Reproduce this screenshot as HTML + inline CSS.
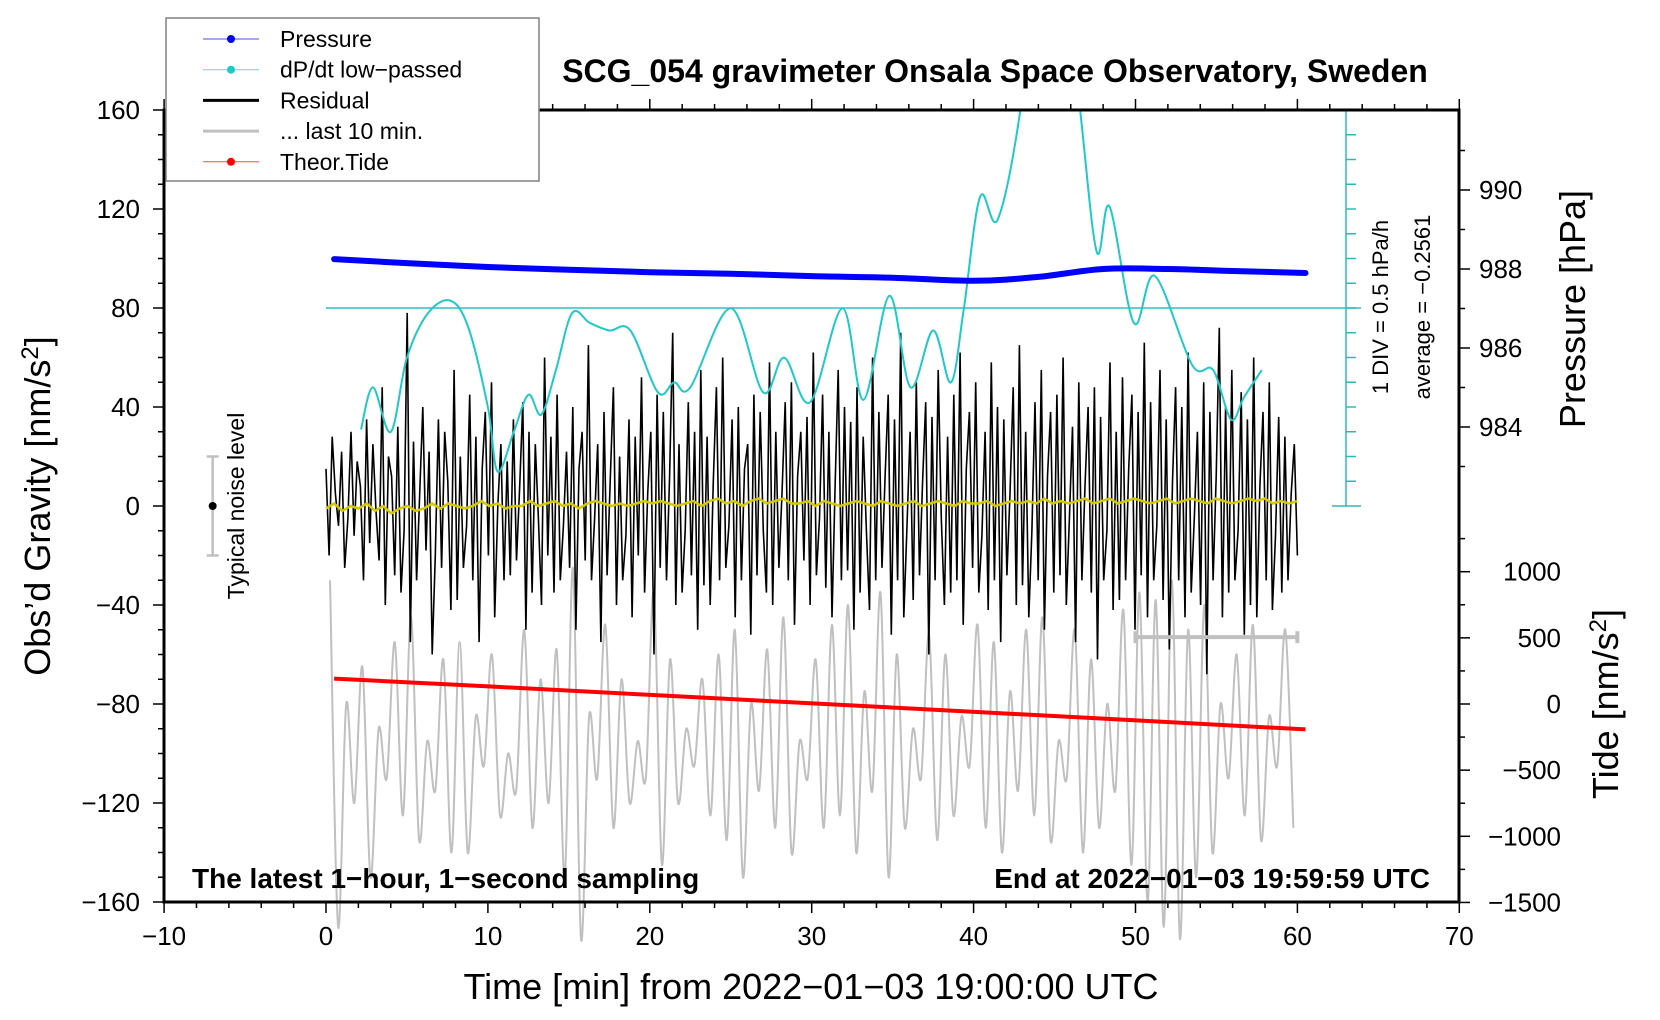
<!DOCTYPE html>
<html><head><meta charset="utf-8"><style>
html,body{margin:0;padding:0;background:#fff}
svg{display:block}
text{font-family:"Liberation Sans",Arial,sans-serif;fill:#000}
</style></head><body>
<svg id="chart" width="1660" height="1020" viewBox="0 0 1660 1020" xmlns="http://www.w3.org/2000/svg">
<defs><clipPath id="plotclip"><rect x="164" y="110" width="1295" height="792"/></clipPath></defs>
<g id="layer"></g>
</svg>
<script>
// ---------- data ----------
const xTicks = [-10,0,10,20,30,40,50,60,70];
const gTicks = [-160,-120,-80,-40,0,40,80,120,160];
const pTicks = [984,986,988,990];
const tTicks = [-1500,-1000,-500,0,500,1000];
const residual = [15,-20,28,5,-8,22,-25,-5,30,-12,18,8,-30,35,-15,25,-2,-22,48,-40,20,12,-28,32,-35,-10,78,-55,26,-30,5,40,-18,22,-60,-20,35,-25,30,10,-42,55,-38,20,-25,-8,45,-30,28,-55,15,38,-20,50,-45,0,25,-30,18,-28,35,-22,8,42,-50,30,-35,25,-5,-40,60,-20,28,-35,
45,-30,-8,22,-25,40,-50,15,30,-22,65,-30,-5,25,-55,38,-28,10,48,-40,20,-30,-12,35,-45,28,-20,52,-35,5,30,-60,45,-25,38,-30,12,70,-40,25,-35,-10,42,-28,30,-50,55,-32,
28,-40,10,48,-30,60,-25,-8,35,-45,40,-30,15,25,-52,45,-28,38,-10,-35,58,-40,30,-25,5,42,-30,50,-48,12,30,-22,36,-40,62,-28,-5,45,-33,30,-45,8,55,-30,40,-26,34,-50,
48,-35,28,-10,-42,60,-30,38,-25,12,45,-52,35,-30,70,-45,-8,30,-38,50,-28,10,42,-60,36,-30,55,-5,-40,28,-35,45,-30,62,-48,15,38,-25,50,-35,-12,30,-42,58,-30,40,-55,
35,-28,5,48,-40,65,-32,30,-45,-10,42,-30,55,-50,12,38,-35,45,-28,60,-40,-5,32,-55,50,-30,8,40,-35,48,-62,36,-30,-10,58,-42,30,-38,52,-30,15,45,-50,38,-28,66,-45,
42,-30,-8,55,-38,35,-58,10,48,-30,40,-45,62,-35,-5,30,-40,50,-68,38,-30,12,72,-45,40,-35,55,-30,-10,46,-52,35,-40,60,-45,8,38,-30,50,-42,-12,36,-35,28,-30,5,25,-20];
const smoothRes = [-1,1,-2,0,-1,1,-2,0,-3,-1,0,-2,-1,1,-1,1,0,-1,0,2,0,1,-1,0,0,2,0,1,2,0,1,-1,1,2,1,0,1,0,1,2,1,2,1,0,1,2,0,2,3,1,2,0,2,3,1,2,3,1,1,2,
0,2,1,0,1,2,1,0,2,1,0,1,2,0,1,2,1,0,2,1,1,2,0,1,2,1,2,1,3,1,2,1,2,3,1,2,3,1,2,3,2,1,2,3,1,2,3,2,1,3,2,1,2,3,2,3,1,2,1,2];
const lastPeaks = [-30,-80,-65,-90,-55,-45,-95,-62,-55,-85,-60,-100,-50,-70,-58,-25,-85,-48,-70,-95,-35,-62,-90,-70,-60,-50,-80,-58,-45,-95,-62,-48,-40,-75,-35,-60,-90,-52,-60,-85,-48,-55,-75,-50,-45,-95,-50,-62,-80,-42,-35,-38,-30,-50,-40,-80,-60,-48,-85,-50];
const lastTroughs = [-170,-120,-150,-110,-125,-135,-115,-140,-140,-105,-125,-115,-130,-120,-150,-175,-110,-130,-120,-110,-145,-120,-105,-125,-135,-150,-115,-130,-140,-110,-130,-125,-140,-115,-150,-130,-110,-135,-125,-105,-130,-140,-115,-125,-135,-110,-140,-130,-115,-145,-160,-170,-175,-150,-140,-110,-125,-135,-105,-130];
const pressTimes = [0.5,5,10,15,20,25,30,35,40,44,48,52,56,60.5];
const pressVals  = [988.25,988.15,988.05,987.98,987.92,987.88,987.82,987.78,987.7,987.8,988.0,988.0,987.95,987.9];
const tideTimes = [0.5,10.5,20.5,30.5,40.5,50.5,60.5];
const tideVals  = [192,130,66,2,-62,-127,-192];
const dpTimes = [2.16,2.9,4.0,5.0,6.3,7.7,8.8,10.0,10.6,11.6,12.5,13.3,14.2,15.2,16.3,17.5,18.8,20.5,21.5,22.5,25.0,27.0,28.3,29.9,31.9,33.2,34.8,36.1,37.5,38.6,39.4,40.4,41.5,43.0,44.8,46.5,47.6,48.4,49.9,51.2,53.5,54.8,55.9,56.7,57.8];
const dpVals  = [-2.71,-1.86,-2.76,-1.26,-0.36,-0.11,-0.66,-2.26,-3.56,-2.76,-2.01,-2.41,-1.51,-0.36,-0.56,-0.71,-0.71,-1.96,-1.76,-1.86,-0.26,-1.96,-1.26,-2.16,-0.26,-2.11,-0.01,-1.86,-0.71,-1.76,-0.26,1.99,1.54,3.99,8.99,3.99,0.89,1.79,-0.56,0.39,-1.41,-1.51,-2.51,-2.06,-1.51];
const dpAvg = -0.2561;

// ---------- scales ----------
const X = m => 326 + m*16.19;
const Y = g => 506 - g*2.475;
const P = h => 269 - (h-988)*39.5;
const T = t => 704 - t*0.1323;
const D = v => Y(80) - (v-dpAvg)/0.5*24.75;

const NS='http://www.w3.org/2000/svg';
const layer=document.getElementById('layer');
function mk(tag,attrs,parent){const e=document.createElementNS(NS,tag);for(const k in attrs)e.setAttribute(k,attrs[k]);(parent||layer).appendChild(e);return e;}
function txt(s,attrs,parent){const e=mk('text',attrs,parent);e.textContent=s;return e;}
function smooth(pts){let d='M'+pts[0][0].toFixed(1)+','+pts[0][1].toFixed(1);
 for(let i=0;i<pts.length-1;i++){const p0=pts[i-1]||pts[i],p1=pts[i],p2=pts[i+1],p3=pts[i+2]||p2;
  d+=' C'+(p1[0]+(p2[0]-p0[0])/6).toFixed(1)+','+(p1[1]+(p2[1]-p0[1])/6).toFixed(1)+' '+(p2[0]-(p3[0]-p1[0])/6).toFixed(1)+','+(p2[1]-(p3[1]-p1[1])/6).toFixed(1)+' '+p2[0].toFixed(1)+','+p2[1].toFixed(1);}
 return d;}

// gray last-10-min
const gpts=[];
lastPeaks.forEach((v,i)=>{gpts.push([X(i+0.25),Y(v)]);gpts.push([X(i+0.75),Y(lastTroughs[i])]);});
let e=mk('path',{d:smooth(gpts),fill:'none',stroke:'#c0c0c0','stroke-width':2});



const clipG=mk('g',{'clip-path':'url(#plotclip)'});



// residual
const rp=residual.map((v,i)=>X(i*60/(residual.length-1)).toFixed(1)+','+Y(v).toFixed(1)).join(' ');
e=mk('polyline',{points:rp,fill:'none',stroke:'#000','stroke-width':1.6},clipG);


// smoothed residual (yellow)
const sp=smoothRes.map((v,i)=>X(i*60/(smoothRes.length-1)).toFixed(1)+','+Y(v).toFixed(1)).join(' ');
e=mk('polyline',{points:sp,fill:'none',stroke:'#d4c800','stroke-width':2.5},clipG);


// cyan center line
e=mk('line',{x1:X(0),x2:1361,y1:D(dpAvg),y2:D(dpAvg),stroke:'#30c0c0','stroke-width':1.5});


// dP/dt
e=mk('path',{d:smooth(dpTimes.map((t,i)=>[X(t),D(dpVals[i])])),fill:'none',stroke:'#20c8c8','stroke-width':2},clipG);


// pressure
e=mk('path',{d:smooth(pressTimes.map((t,i)=>[X(t),P(pressVals[i])])),fill:'none',stroke:'#0000ff','stroke-width':6,'stroke-linecap':'round'},clipG);


// tide
e=mk('polyline',{points:tideTimes.map((t,i)=>X(t)+','+T(tideVals[i])).join(' '),fill:'none',stroke:'#ff0000','stroke-width':4},clipG);



// last-10-min marker
const mg=mk('g',{stroke:'#c0c0c0','stroke-width':4});


mk('line',{x1:X(50),x2:X(60),y1:Y(-53),y2:Y(-53)},mg);
mk('line',{x1:X(50),x2:X(50),y1:Y(-53)-6,y2:Y(-53)+6},mg);
mk('line',{x1:X(60),x2:X(60),y1:Y(-53)-6,y2:Y(-53)+6},mg);

// noise bar
const nb=mk('g',{});


mk('line',{x1:X(-7),x2:X(-7),y1:Y(20),y2:Y(-20),stroke:'#c0c0c0','stroke-width':2.5},nb);
mk('line',{x1:X(-7)-6,x2:X(-7)+6,y1:Y(20),y2:Y(20),stroke:'#c0c0c0','stroke-width':2.5},nb);
mk('line',{x1:X(-7)-6,x2:X(-7)+6,y1:Y(-20),y2:Y(-20),stroke:'#c0c0c0','stroke-width':2.5},nb);
mk('circle',{cx:X(-7),cy:Y(0),r:4,fill:'#000'},nb);
e=txt('Typical noise level',{x:0,y:0,'font-size':23,'text-anchor':'middle',transform:'translate(244,506) rotate(-90)'});



// cyan dP/dt scale axis
const ca=mk('g',{stroke:'#30b8b8','stroke-width':1.5});


mk('line',{x1:1346,x2:1346,y1:110,y2:506},ca);
for(let k=0;k<=16;k++){const y=Y(k*10);const big=(k===0||k===16);mk('line',{x1:big?1332:1346,x2:big?1361:1356,y1:y,y2:y},ca);}

// frame
e=mk('rect',{x:164,y:110,width:1295,height:792,fill:'none',stroke:'#000','stroke-width':3});


// ticks
const tg=mk('g',{stroke:'#000','stroke-width':1.5});
for(let m=-10;m<=70;m+=2){const big=m%10===0;mk('line',{x1:X(m),x2:X(m),y1:902,y2:902+(big?11:6)},tg);mk('line',{x1:X(m),x2:X(m),y1:110,y2:110-(big?11:6)},tg);}
for(let g=-160;g<=160;g+=10){const big=g%40===0;mk('line',{x1:164,x2:164-(big?11:6),y1:Y(g),y2:Y(g)},tg);}
for(let h=983;h<=991;h++){const big=h%2===0;mk('line',{x1:1459,x2:1459+(big?11:6),y1:P(h),y2:P(h)},tg);}
for(let t=-1500;t<=1250;t+=250){const big=t%500===0;mk('line',{x1:1459,x2:1459+(big?11:6),y1:T(t),y2:T(t)},tg);}
xTicks.forEach(v=>{const t=txt(String(v).replace('-','\u2212'),{x:X(v),y:945,'font-size':26,'text-anchor':'middle'});

});
gTicks.forEach(v=>{const t=txt(String(v).replace('-','\u2212'),{x:140,y:Y(v)+9,'font-size':26,'text-anchor':'end'});

});
pTicks.forEach(v=>{const t=txt(String(v),{x:1479,y:P(v)+9,'font-size':26});

});
tTicks.forEach(v=>{const t=txt(String(v).replace('-','\u2212'),{x:1561,y:T(v)+9,'font-size':26,'text-anchor':'end'});

});

// titles
e=txt('SCG_054 gravimeter Onsala Space Observatory, Sweden',{x:995,y:82,'font-size':32,'font-weight':'bold','text-anchor':'middle'});


e=txt('Time [min] from 2022\u221201\u221203 19:00:00 UTC',{x:811,y:999,'font-size':36,'text-anchor':'middle'});


e=mk('text',{x:0,y:0,'font-size':36,'text-anchor':'middle',transform:'translate(50,506) rotate(-90)'});
e.innerHTML='Obs\u2019d Gravity [nm/s<tspan dy="-12" font-size="24">2</tspan><tspan dy="12">]</tspan>';


e=txt('Pressure [hPa]',{x:0,y:0,'font-size':36,'text-anchor':'middle',transform:'translate(1585,309) rotate(-90)'});


e=mk('text',{x:0,y:0,'font-size':36,'text-anchor':'middle',transform:'translate(1618,704) rotate(-90)'});
e.innerHTML='Tide [nm/s<tspan dy="-12" font-size="24">2</tspan><tspan dy="12">]</tspan>';


e=txt('1 DIV = 0.5 hPa/h',{x:0,y:0,'font-size':22,'text-anchor':'middle',transform:'translate(1388,307) rotate(-90)'});


e=txt('average = \u22120.2561',{x:0,y:0,'font-size':22,'text-anchor':'middle',transform:'translate(1430,307) rotate(-90)'});


e=txt('The latest 1\u2212hour, 1\u2212second sampling',{x:192,y:888,'font-size':28,'font-weight':'bold'});


e=txt('End at 2022\u221201\u221203 19:59:59 UTC',{x:1430,y:888,'font-size':28,'font-weight':'bold','text-anchor':'end'});



// legend
const lg=mk('g',{});


mk('rect',{x:166,y:18,width:373,height:163,fill:'#fff',stroke:'#808080','stroke-width':1.5},lg);
const legNames=['Pressure','dP/dt low\u2212passed','Residual','... last 10 min.','Theor.Tide'];
const legCols=['#0000ff','#20c8c8','#000','#c0c0c0','#ff0000'];
legNames.forEach((n,i)=>{const y=39+i*30.7;
 const en=mk('g',{},lg);
 
 
 const thick=(i===2||i===3);
 mk('line',{x1:203,x2:259,y1:y,y2:y,stroke:legCols[i],'stroke-width':thick?3:1,'stroke-opacity':thick?1:0.7},en);
 if(!thick)mk('circle',{cx:231,cy:y,r:4,fill:legCols[i]},en);
 txt(n,{x:280,y:y+8,'font-size':23},en);});
</script>
</body></html>
